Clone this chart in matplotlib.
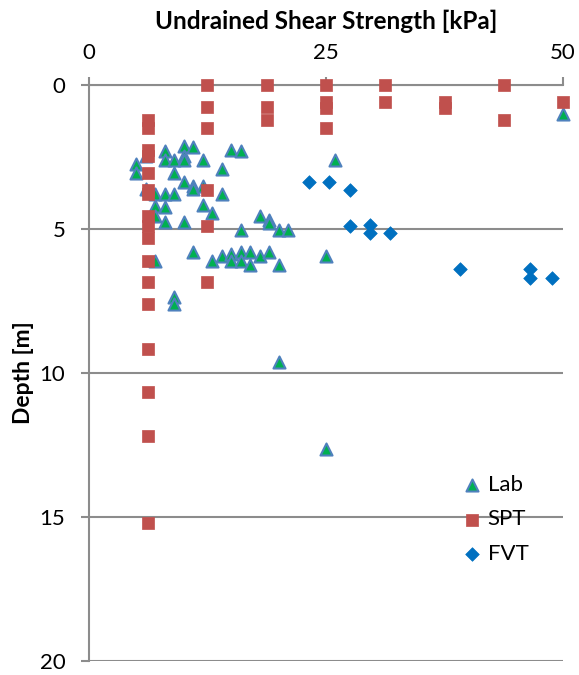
import matplotlib
matplotlib.use("Agg")
import matplotlib.pyplot as plt

# Lab tests (undrained shear strength kPa, depth m)
lab_su = [5, 5, 6, 6, 8, 8, 9, 10, 10, 10, 11, 12, 9, 10, 11, 11, 12, 14, 15, 16,
          7, 8, 9, 14, 7, 8, 12, 13, 7, 8, 10, 18, 19, 19, 16, 20, 21,
          7, 11, 13, 14, 15, 15, 16, 16, 17, 17, 18, 19, 20, 25,
          9, 9, 20, 25, 26, 50]
lab_depth = [2.75, 3.05, 2.45, 3.6, 2.3, 2.6, 2.6, 2.1, 2.45, 2.6, 2.15, 2.6, 3.05, 3.35, 3.5, 3.6, 3.5, 2.9, 2.25, 2.3,
             3.8, 3.8, 3.8, 3.8, 4.2, 4.25, 4.15, 4.45, 4.55, 4.75, 4.75, 4.55, 4.7, 4.8, 5.05, 5.05, 5.05,
             6.1, 5.8, 6.1, 5.95, 5.85, 6.1, 5.8, 6.1, 5.8, 6.25, 5.95, 5.8, 6.25, 5.95,
             7.35, 7.6, 9.6, 12.65, 2.6, 1.0]

# SPT derived strengths
spt_su = [6.25] * 17 + [12.5] * 6 + [18.75] * 3 + [25] * 4 + [31.25] * 2 + [37.5] * 2 + [43.75] * 2 + [50]
spt_depth = [1.2, 1.5, 2.25, 2.45, 3.05, 3.65, 3.8, 4.55, 4.9, 5.3, 6.1, 6.85, 7.6, 9.15, 10.65, 12.2, 15.2,
             0, 0.75, 1.5, 3.65, 4.9, 6.85,
             0, 0.75, 1.2,
             0, 0.6, 0.8, 1.5,
             0, 0.6,
             0.6, 0.8,
             0, 1.2,
             0.6]

# Field vane tests
fvt_su = [23.2, 25.3, 27.5, 27.5, 29.6, 29.6, 31.7, 39.1, 46.5, 46.5, 48.8]
fvt_depth = [3.35, 3.35, 3.65, 4.9, 4.85, 5.15, 5.15, 6.4, 6.4, 6.7, 6.7]

plt.rcParams['font.family'] = ['Lato', 'DejaVu Sans']

fig = plt.figure(figsize=(5.79, 6.75), dpi=100)
ax = fig.add_axes([0.1537, 0.0207, 0.8187, 0.8533])

ax.scatter(lab_su, lab_depth, marker='^', s=75, c='#00B050', edgecolors='#4F81BD',
           linewidths=1.5, label='Lab', clip_on=False, zorder=3)
ax.scatter(spt_su, spt_depth, marker='s', s=80, c='#C0504D', edgecolors='#C0504D',
           linewidths=0.5, label='SPT', clip_on=False, zorder=4)
ax.scatter(fvt_su, fvt_depth, marker='D', s=48, c='#0070C0', edgecolors='#0070C0',
           linewidths=0.5, label='FVT', clip_on=False, zorder=5)

ax.set_xlim(0, 50)
ax.set_ylim(20, 0)
ax.xaxis.tick_top()
ax.xaxis.set_label_position('top')
ax.set_xticks([0, 25, 50])
ax.set_yticks([0, 5, 10, 15, 20])

gray = '#8C8C8C'
ax.grid(axis='y', color=gray, linewidth=1.5)
ax.set_axisbelow(True)
for side in ['right', 'bottom']:
    ax.spines[side].set_visible(False)
for side in ['top', 'left']:
    ax.spines[side].set_color(gray)
    ax.spines[side].set_linewidth(1.5)
ax.tick_params(direction='out', length=6, width=1.5, color=gray, labelsize=16)
ax.tick_params(axis='x', pad=10)
ax.tick_params(axis='y', pad=11)

ax.set_xlabel('Undrained Shear Strength [kPa]', fontsize=17.5, fontweight='bold', labelpad=10)
ax.set_ylabel('Depth [m]', fontsize=16.5, fontweight='bold', labelpad=4)

ax.legend(loc='upper left', bbox_to_anchor=(0.785, 0.323), frameon=False, fontsize=16,
          handlelength=1.0, handletextpad=0.2, labelspacing=0.65, borderaxespad=0, borderpad=0)

fig.savefig('out.png', dpi=100)
